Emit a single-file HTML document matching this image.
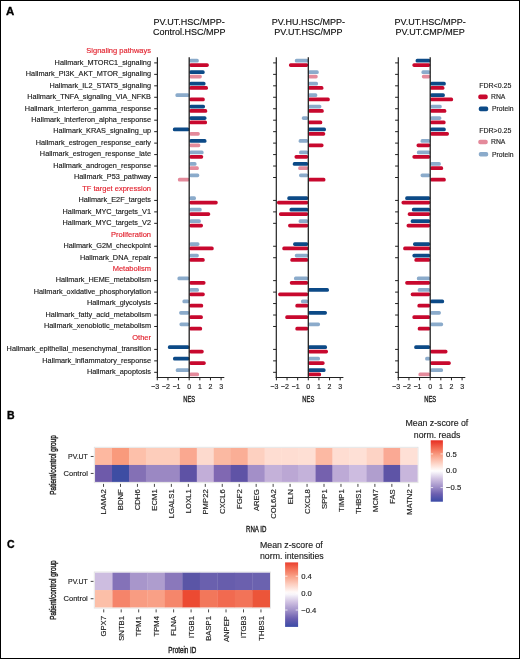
<!DOCTYPE html>
<html><head><meta charset="utf-8"><style>
html,body{margin:0;padding:0;background:#fff;}
#w{position:relative;width:520px;height:659px;overflow:hidden;background:#fff;}
#w svg{position:absolute;left:0;top:0;will-change:transform;}
#bd{position:absolute;left:0;top:0;width:518px;height:657px;border:1px solid #000;}
svg text{font-family:"Liberation Sans", sans-serif;}
</style></head><body><div id="w">
<svg width="520" height="659" viewBox="0 0 520 659">
<text x="6.1" y="14.6" font-size="11.4" font-weight="bold" fill="#000" stroke="#000" stroke-width="0.35">A</text>
<text stroke="#e2232f" stroke-width="0.15" x="151.0" y="53.24" font-size="7.5" fill="#e2232f" text-anchor="end">Signaling pathways</text>
<text stroke="#1a1a1a" stroke-width="0.15" x="151.0" y="64.70" font-size="7.3" fill="#1a1a1a" text-anchor="end">Hallmark_MTORC1_signaling</text>
<text stroke="#1a1a1a" stroke-width="0.15" x="151.0" y="76.16" font-size="7.3" fill="#1a1a1a" text-anchor="end">Hallmark_PI3K_AKT_MTOR_signaling</text>
<text stroke="#1a1a1a" stroke-width="0.15" x="151.0" y="87.62" font-size="7.3" fill="#1a1a1a" text-anchor="end">Hallmark_IL2_STAT5_signaling</text>
<text stroke="#1a1a1a" stroke-width="0.15" x="151.0" y="99.08" font-size="7.3" fill="#1a1a1a" text-anchor="end">Hallmark_TNFA_signaling_VIA_NFKB</text>
<text stroke="#1a1a1a" stroke-width="0.15" x="151.0" y="110.54" font-size="7.3" fill="#1a1a1a" text-anchor="end">Hallmark_interferon_gamma_response</text>
<text stroke="#1a1a1a" stroke-width="0.15" x="151.0" y="122.00" font-size="7.3" fill="#1a1a1a" text-anchor="end">Hallmark_interferon_alpha_response</text>
<text stroke="#1a1a1a" stroke-width="0.15" x="151.0" y="133.46" font-size="7.3" fill="#1a1a1a" text-anchor="end">Hallmark_KRAS_signaling_up</text>
<text stroke="#1a1a1a" stroke-width="0.15" x="151.0" y="144.92" font-size="7.3" fill="#1a1a1a" text-anchor="end">Hallmark_estrogen_response_early</text>
<text stroke="#1a1a1a" stroke-width="0.15" x="151.0" y="156.38" font-size="7.3" fill="#1a1a1a" text-anchor="end">Hallmark_estrogen_response_late</text>
<text stroke="#1a1a1a" stroke-width="0.15" x="151.0" y="167.84" font-size="7.3" fill="#1a1a1a" text-anchor="end">Hallmark_androgen_response</text>
<text stroke="#1a1a1a" stroke-width="0.15" x="151.0" y="179.30" font-size="7.3" fill="#1a1a1a" text-anchor="end">Hallmark_P53_pathway</text>
<text stroke="#e2232f" stroke-width="0.15" x="151.0" y="190.76" font-size="7.5" fill="#e2232f" text-anchor="end">TF target expression</text>
<text stroke="#1a1a1a" stroke-width="0.15" x="151.0" y="202.22" font-size="7.3" fill="#1a1a1a" text-anchor="end">Hallmark_E2F_targets</text>
<text stroke="#1a1a1a" stroke-width="0.15" x="151.0" y="213.68" font-size="7.3" fill="#1a1a1a" text-anchor="end">Hallmark_MYC_targets_V1</text>
<text stroke="#1a1a1a" stroke-width="0.15" x="151.0" y="225.14" font-size="7.3" fill="#1a1a1a" text-anchor="end">Hallmark_MYC_targets_V2</text>
<text stroke="#e2232f" stroke-width="0.15" x="151.0" y="236.60" font-size="7.5" fill="#e2232f" text-anchor="end">Proliferation</text>
<text stroke="#1a1a1a" stroke-width="0.15" x="151.0" y="248.06" font-size="7.3" fill="#1a1a1a" text-anchor="end">Hallmark_G2M_checkpoint</text>
<text stroke="#1a1a1a" stroke-width="0.15" x="151.0" y="259.52" font-size="7.3" fill="#1a1a1a" text-anchor="end">Hallmark_DNA_repair</text>
<text stroke="#e2232f" stroke-width="0.15" x="151.0" y="270.98" font-size="7.5" fill="#e2232f" text-anchor="end">Metabolism</text>
<text stroke="#1a1a1a" stroke-width="0.15" x="151.0" y="282.44" font-size="7.3" fill="#1a1a1a" text-anchor="end">Hallmark_HEME_metabolism</text>
<text stroke="#1a1a1a" stroke-width="0.15" x="151.0" y="293.90" font-size="7.3" fill="#1a1a1a" text-anchor="end">Hallmark_oxidative_phosphorylation</text>
<text stroke="#1a1a1a" stroke-width="0.15" x="151.0" y="305.36" font-size="7.3" fill="#1a1a1a" text-anchor="end">Hallmark_glycolysis</text>
<text stroke="#1a1a1a" stroke-width="0.15" x="151.0" y="316.82" font-size="7.3" fill="#1a1a1a" text-anchor="end">Hallmark_fatty_acid_metabolism</text>
<text stroke="#1a1a1a" stroke-width="0.15" x="151.0" y="328.28" font-size="7.3" fill="#1a1a1a" text-anchor="end">Hallmark_xenobiotic_metabolism</text>
<text stroke="#e2232f" stroke-width="0.15" x="151.0" y="339.74" font-size="7.5" fill="#e2232f" text-anchor="end">Other</text>
<text stroke="#1a1a1a" stroke-width="0.15" x="151.0" y="351.20" font-size="7.3" fill="#1a1a1a" text-anchor="end">Hallmark_epithelial_mesenchymal_transition</text>
<text stroke="#1a1a1a" stroke-width="0.15" x="151.0" y="362.66" font-size="7.3" fill="#1a1a1a" text-anchor="end">Hallmark_inflammatory_response</text>
<text stroke="#1a1a1a" stroke-width="0.15" x="151.0" y="374.12" font-size="7.3" fill="#1a1a1a" text-anchor="end">Hallmark_apoptosis</text>
<rect x="189.20" y="58.85" width="9.64" height="3.75" rx="1.6" fill="#8babcb"/>
<rect x="189.20" y="63.20" width="19.61" height="3.75" rx="1.6" fill="#c8082e"/>
<rect x="189.20" y="70.31" width="15.48" height="3.75" rx="1.6" fill="#0c4a87"/>
<rect x="189.20" y="74.66" width="12.61" height="3.75" rx="1.6" fill="#e48a9b"/>
<rect x="189.20" y="81.77" width="16.33" height="3.75" rx="1.6" fill="#0c4a87"/>
<rect x="189.20" y="86.12" width="18.76" height="3.75" rx="1.6" fill="#c8082e"/>
<rect x="175.42" y="93.23" width="14.08" height="3.75" rx="1.6" fill="#8babcb"/>
<rect x="189.20" y="97.58" width="15.58" height="3.75" rx="1.6" fill="#c8082e"/>
<rect x="189.20" y="104.69" width="15.80" height="3.75" rx="1.6" fill="#0c4a87"/>
<rect x="189.20" y="109.04" width="18.02" height="3.75" rx="1.6" fill="#c8082e"/>
<rect x="189.20" y="116.15" width="17.28" height="3.75" rx="1.6" fill="#0c4a87"/>
<rect x="189.20" y="120.50" width="17.81" height="3.75" rx="1.6" fill="#c8082e"/>
<rect x="172.87" y="127.61" width="16.63" height="3.75" rx="1.6" fill="#0c4a87"/>
<rect x="189.20" y="131.96" width="10.60" height="3.75" rx="1.6" fill="#e48a9b"/>
<rect x="189.20" y="139.07" width="17.28" height="3.75" rx="1.6" fill="#0c4a87"/>
<rect x="189.20" y="143.42" width="11.13" height="3.75" rx="1.6" fill="#e48a9b"/>
<rect x="189.20" y="150.53" width="14.42" height="3.75" rx="1.6" fill="#8babcb"/>
<rect x="189.20" y="154.88" width="13.99" height="3.75" rx="1.6" fill="#c8082e"/>
<rect x="189.20" y="161.99" width="7.31" height="3.75" rx="1.6" fill="#8babcb"/>
<rect x="189.20" y="166.34" width="9.64" height="3.75" rx="1.6" fill="#e48a9b"/>
<rect x="189.20" y="173.45" width="10.07" height="3.75" rx="1.6" fill="#8babcb"/>
<rect x="177.86" y="177.80" width="11.64" height="3.75" rx="1.6" fill="#e48a9b"/>
<rect x="189.20" y="196.37" width="6.78" height="3.75" rx="1.6" fill="#8babcb"/>
<rect x="189.20" y="200.72" width="28.52" height="3.75" rx="1.6" fill="#c8082e"/>
<rect x="189.20" y="207.83" width="12.51" height="3.75" rx="1.6" fill="#8babcb"/>
<rect x="189.20" y="212.18" width="20.99" height="3.75" rx="1.6" fill="#c8082e"/>
<rect x="189.20" y="219.29" width="11.66" height="3.75" rx="1.6" fill="#8babcb"/>
<rect x="189.20" y="223.64" width="13.78" height="3.75" rx="1.6" fill="#c8082e"/>
<rect x="189.20" y="242.21" width="10.28" height="3.75" rx="1.6" fill="#8babcb"/>
<rect x="189.20" y="246.56" width="24.49" height="3.75" rx="1.6" fill="#c8082e"/>
<rect x="189.20" y="253.67" width="9.64" height="3.75" rx="1.6" fill="#8babcb"/>
<rect x="189.20" y="258.02" width="15.48" height="3.75" rx="1.6" fill="#c8082e"/>
<rect x="177.43" y="276.59" width="12.07" height="3.75" rx="1.6" fill="#8babcb"/>
<rect x="189.20" y="280.94" width="16.33" height="3.75" rx="1.6" fill="#c8082e"/>
<rect x="189.20" y="288.05" width="9.75" height="3.75" rx="1.6" fill="#8babcb"/>
<rect x="189.20" y="292.40" width="15.58" height="3.75" rx="1.6" fill="#c8082e"/>
<rect x="182.42" y="299.51" width="7.08" height="3.75" rx="1.6" fill="#8babcb"/>
<rect x="189.20" y="303.86" width="13.99" height="3.75" rx="1.6" fill="#c8082e"/>
<rect x="179.13" y="310.97" width="10.37" height="3.75" rx="1.6" fill="#8babcb"/>
<rect x="189.20" y="315.32" width="13.67" height="3.75" rx="1.6" fill="#c8082e"/>
<rect x="179.45" y="322.43" width="10.05" height="3.75" rx="1.6" fill="#8babcb"/>
<rect x="189.20" y="326.78" width="12.93" height="3.75" rx="1.6" fill="#c8082e"/>
<rect x="167.89" y="345.35" width="21.61" height="3.75" rx="1.6" fill="#0c4a87"/>
<rect x="189.20" y="349.70" width="14.52" height="3.75" rx="1.6" fill="#c8082e"/>
<rect x="172.98" y="356.81" width="16.52" height="3.75" rx="1.6" fill="#0c4a87"/>
<rect x="189.20" y="361.16" width="16.54" height="3.75" rx="1.6" fill="#c8082e"/>
<rect x="175.74" y="368.27" width="13.76" height="3.75" rx="1.6" fill="#8babcb"/>
<rect x="189.20" y="372.62" width="9.86" height="3.75" rx="1.6" fill="#e48a9b"/>
<line x1="189.2" y1="57.2" x2="189.2" y2="377.5" stroke="#222" stroke-width="1.3"/>
<line x1="157.4" y1="57.2" x2="157.4" y2="378.1" stroke="#222" stroke-width="1.2"/>
<line x1="154.20000000000002" y1="62.90" x2="157.4" y2="62.90" stroke="#222" stroke-width="1"/>
<line x1="154.20000000000002" y1="74.36" x2="157.4" y2="74.36" stroke="#222" stroke-width="1"/>
<line x1="154.20000000000002" y1="85.82" x2="157.4" y2="85.82" stroke="#222" stroke-width="1"/>
<line x1="154.20000000000002" y1="97.28" x2="157.4" y2="97.28" stroke="#222" stroke-width="1"/>
<line x1="154.20000000000002" y1="108.74" x2="157.4" y2="108.74" stroke="#222" stroke-width="1"/>
<line x1="154.20000000000002" y1="120.20" x2="157.4" y2="120.20" stroke="#222" stroke-width="1"/>
<line x1="154.20000000000002" y1="131.66" x2="157.4" y2="131.66" stroke="#222" stroke-width="1"/>
<line x1="154.20000000000002" y1="143.12" x2="157.4" y2="143.12" stroke="#222" stroke-width="1"/>
<line x1="154.20000000000002" y1="154.58" x2="157.4" y2="154.58" stroke="#222" stroke-width="1"/>
<line x1="154.20000000000002" y1="166.04" x2="157.4" y2="166.04" stroke="#222" stroke-width="1"/>
<line x1="154.20000000000002" y1="177.50" x2="157.4" y2="177.50" stroke="#222" stroke-width="1"/>
<line x1="154.20000000000002" y1="200.42" x2="157.4" y2="200.42" stroke="#222" stroke-width="1"/>
<line x1="154.20000000000002" y1="211.88" x2="157.4" y2="211.88" stroke="#222" stroke-width="1"/>
<line x1="154.20000000000002" y1="223.34" x2="157.4" y2="223.34" stroke="#222" stroke-width="1"/>
<line x1="154.20000000000002" y1="246.26" x2="157.4" y2="246.26" stroke="#222" stroke-width="1"/>
<line x1="154.20000000000002" y1="257.72" x2="157.4" y2="257.72" stroke="#222" stroke-width="1"/>
<line x1="154.20000000000002" y1="280.64" x2="157.4" y2="280.64" stroke="#222" stroke-width="1"/>
<line x1="154.20000000000002" y1="292.10" x2="157.4" y2="292.10" stroke="#222" stroke-width="1"/>
<line x1="154.20000000000002" y1="303.56" x2="157.4" y2="303.56" stroke="#222" stroke-width="1"/>
<line x1="154.20000000000002" y1="315.02" x2="157.4" y2="315.02" stroke="#222" stroke-width="1"/>
<line x1="154.20000000000002" y1="326.48" x2="157.4" y2="326.48" stroke="#222" stroke-width="1"/>
<line x1="154.20000000000002" y1="349.40" x2="157.4" y2="349.40" stroke="#222" stroke-width="1"/>
<line x1="154.20000000000002" y1="360.86" x2="157.4" y2="360.86" stroke="#222" stroke-width="1"/>
<line x1="154.20000000000002" y1="372.32" x2="157.4" y2="372.32" stroke="#222" stroke-width="1"/>
<line x1="156.8" y1="377.5" x2="224.28999999999996" y2="377.5" stroke="#222" stroke-width="1.1"/>
<line x1="157.31" y1="377.5" x2="157.31" y2="380.3" stroke="#222" stroke-width="1"/>
<text stroke="#222" stroke-width="0.15" x="157.31" y="389.2" font-size="7" fill="#222" text-anchor="middle">3</text>
<text stroke="#222" stroke-width="0.15" x="155.21" y="389.2" font-size="7" fill="#222" text-anchor="end">−</text>
<line x1="167.94" y1="377.5" x2="167.94" y2="380.3" stroke="#222" stroke-width="1"/>
<text stroke="#222" stroke-width="0.15" x="167.94" y="389.2" font-size="7" fill="#222" text-anchor="middle">2</text>
<text stroke="#222" stroke-width="0.15" x="165.84" y="389.2" font-size="7" fill="#222" text-anchor="end">−</text>
<line x1="178.57" y1="377.5" x2="178.57" y2="380.3" stroke="#222" stroke-width="1"/>
<text stroke="#222" stroke-width="0.15" x="178.57" y="389.2" font-size="7" fill="#222" text-anchor="middle">1</text>
<text stroke="#222" stroke-width="0.15" x="176.47" y="389.2" font-size="7" fill="#222" text-anchor="end">−</text>
<line x1="189.20" y1="377.5" x2="189.20" y2="380.3" stroke="#222" stroke-width="1"/>
<text stroke="#222" stroke-width="0.15" x="189.20" y="389.2" font-size="7" fill="#222" text-anchor="middle">0</text>
<line x1="199.83" y1="377.5" x2="199.83" y2="380.3" stroke="#222" stroke-width="1"/>
<text stroke="#222" stroke-width="0.15" x="199.83" y="389.2" font-size="7" fill="#222" text-anchor="middle">1</text>
<line x1="210.46" y1="377.5" x2="210.46" y2="380.3" stroke="#222" stroke-width="1"/>
<text stroke="#222" stroke-width="0.15" x="210.46" y="389.2" font-size="7" fill="#222" text-anchor="middle">2</text>
<line x1="221.09" y1="377.5" x2="221.09" y2="380.3" stroke="#222" stroke-width="1"/>
<text stroke="#222" stroke-width="0.15" x="221.09" y="389.2" font-size="7" fill="#222" text-anchor="middle">3</text>
<text x="183.20" y="401.8" font-size="9" fill="#222" stroke="#222" stroke-width="0.4" textLength="12" lengthAdjust="spacingAndGlyphs">NES</text>
<text stroke="#111" stroke-width="0.15" x="189.20" y="25" font-size="9" fill="#111" text-anchor="middle">PV.UT.HSC/MPP-</text>
<text stroke="#111" stroke-width="0.15" x="189.20" y="35.3" font-size="9" fill="#111" text-anchor="middle">Control.HSC/MPP</text>
<rect x="294.81" y="58.85" width="13.44" height="3.75" rx="1.6" fill="#8babcb"/>
<rect x="288.97" y="63.20" width="19.28" height="3.75" rx="1.6" fill="#c8082e"/>
<rect x="307.95" y="70.31" width="10.81" height="3.75" rx="1.6" fill="#8babcb"/>
<rect x="307.95" y="74.66" width="9.75" height="3.75" rx="1.6" fill="#e48a9b"/>
<rect x="307.95" y="81.77" width="10.07" height="3.75" rx="1.6" fill="#8babcb"/>
<rect x="307.95" y="86.12" width="15.48" height="3.75" rx="1.6" fill="#c8082e"/>
<rect x="307.95" y="93.23" width="9.33" height="3.75" rx="1.6" fill="#8babcb"/>
<rect x="307.95" y="97.58" width="21.84" height="3.75" rx="1.6" fill="#c8082e"/>
<rect x="307.95" y="104.69" width="13.46" height="3.75" rx="1.6" fill="#8babcb"/>
<rect x="307.95" y="109.04" width="15.80" height="3.75" rx="1.6" fill="#c8082e"/>
<rect x="301.81" y="116.15" width="6.44" height="3.75" rx="1.6" fill="#8babcb"/>
<rect x="307.95" y="120.50" width="14.31" height="3.75" rx="1.6" fill="#c8082e"/>
<rect x="307.95" y="127.61" width="18.02" height="3.75" rx="1.6" fill="#0c4a87"/>
<rect x="307.95" y="131.96" width="17.28" height="3.75" rx="1.6" fill="#c8082e"/>
<rect x="298.62" y="139.07" width="9.63" height="3.75" rx="1.6" fill="#8babcb"/>
<rect x="307.95" y="143.42" width="15.58" height="3.75" rx="1.6" fill="#c8082e"/>
<rect x="299.05" y="150.53" width="9.20" height="3.75" rx="1.6" fill="#8babcb"/>
<rect x="294.49" y="154.88" width="13.76" height="3.75" rx="1.6" fill="#c8082e"/>
<rect x="292.79" y="161.99" width="15.46" height="3.75" rx="1.6" fill="#0c4a87"/>
<rect x="298.20" y="166.34" width="10.05" height="3.75" rx="1.6" fill="#e48a9b"/>
<rect x="299.05" y="173.45" width="9.20" height="3.75" rx="1.6" fill="#8babcb"/>
<rect x="307.95" y="177.80" width="17.49" height="3.75" rx="1.6" fill="#c8082e"/>
<rect x="287.28" y="196.37" width="20.97" height="3.75" rx="1.6" fill="#0c4a87"/>
<rect x="276.99" y="200.72" width="31.26" height="3.75" rx="1.6" fill="#c8082e"/>
<rect x="289.50" y="207.83" width="18.75" height="3.75" rx="1.6" fill="#0c4a87"/>
<rect x="279.00" y="212.18" width="29.25" height="3.75" rx="1.6" fill="#c8082e"/>
<rect x="298.62" y="219.29" width="9.63" height="3.75" rx="1.6" fill="#8babcb"/>
<rect x="288.12" y="223.64" width="20.13" height="3.75" rx="1.6" fill="#c8082e"/>
<rect x="293.11" y="242.21" width="15.14" height="3.75" rx="1.6" fill="#0c4a87"/>
<rect x="282.29" y="246.56" width="25.96" height="3.75" rx="1.6" fill="#c8082e"/>
<rect x="294.81" y="253.67" width="13.44" height="3.75" rx="1.6" fill="#8babcb"/>
<rect x="290.35" y="258.02" width="17.90" height="3.75" rx="1.6" fill="#c8082e"/>
<rect x="293.96" y="276.59" width="14.29" height="3.75" rx="1.6" fill="#8babcb"/>
<rect x="289.82" y="280.94" width="18.43" height="3.75" rx="1.6" fill="#c8082e"/>
<rect x="307.95" y="288.05" width="20.99" height="3.75" rx="1.6" fill="#0c4a87"/>
<rect x="278.16" y="292.40" width="30.09" height="3.75" rx="1.6" fill="#c8082e"/>
<rect x="300.96" y="299.51" width="7.29" height="3.75" rx="1.6" fill="#8babcb"/>
<rect x="295.34" y="303.86" width="12.91" height="3.75" rx="1.6" fill="#c8082e"/>
<rect x="307.95" y="310.97" width="18.98" height="3.75" rx="1.6" fill="#0c4a87"/>
<rect x="285.26" y="315.32" width="22.99" height="3.75" rx="1.6" fill="#c8082e"/>
<rect x="307.95" y="322.43" width="12.08" height="3.75" rx="1.6" fill="#8babcb"/>
<rect x="295.34" y="326.78" width="12.91" height="3.75" rx="1.6" fill="#c8082e"/>
<rect x="307.95" y="345.35" width="19.08" height="3.75" rx="1.6" fill="#0c4a87"/>
<rect x="307.95" y="349.70" width="20.04" height="3.75" rx="1.6" fill="#c8082e"/>
<rect x="307.95" y="356.81" width="12.08" height="3.75" rx="1.6" fill="#8babcb"/>
<rect x="307.95" y="361.16" width="16.64" height="3.75" rx="1.6" fill="#c8082e"/>
<rect x="307.95" y="368.27" width="17.60" height="3.75" rx="1.6" fill="#0c4a87"/>
<rect x="307.95" y="372.62" width="13.14" height="3.75" rx="1.6" fill="#c8082e"/>
<line x1="308.3" y1="57.2" x2="308.3" y2="377.5" stroke="#222" stroke-width="1.3"/>
<line x1="276.3" y1="57.2" x2="276.3" y2="378.1" stroke="#222" stroke-width="1.2"/>
<line x1="273.1" y1="62.90" x2="276.3" y2="62.90" stroke="#222" stroke-width="1"/>
<line x1="273.1" y1="74.36" x2="276.3" y2="74.36" stroke="#222" stroke-width="1"/>
<line x1="273.1" y1="85.82" x2="276.3" y2="85.82" stroke="#222" stroke-width="1"/>
<line x1="273.1" y1="97.28" x2="276.3" y2="97.28" stroke="#222" stroke-width="1"/>
<line x1="273.1" y1="108.74" x2="276.3" y2="108.74" stroke="#222" stroke-width="1"/>
<line x1="273.1" y1="120.20" x2="276.3" y2="120.20" stroke="#222" stroke-width="1"/>
<line x1="273.1" y1="131.66" x2="276.3" y2="131.66" stroke="#222" stroke-width="1"/>
<line x1="273.1" y1="143.12" x2="276.3" y2="143.12" stroke="#222" stroke-width="1"/>
<line x1="273.1" y1="154.58" x2="276.3" y2="154.58" stroke="#222" stroke-width="1"/>
<line x1="273.1" y1="166.04" x2="276.3" y2="166.04" stroke="#222" stroke-width="1"/>
<line x1="273.1" y1="177.50" x2="276.3" y2="177.50" stroke="#222" stroke-width="1"/>
<line x1="273.1" y1="200.42" x2="276.3" y2="200.42" stroke="#222" stroke-width="1"/>
<line x1="273.1" y1="211.88" x2="276.3" y2="211.88" stroke="#222" stroke-width="1"/>
<line x1="273.1" y1="223.34" x2="276.3" y2="223.34" stroke="#222" stroke-width="1"/>
<line x1="273.1" y1="246.26" x2="276.3" y2="246.26" stroke="#222" stroke-width="1"/>
<line x1="273.1" y1="257.72" x2="276.3" y2="257.72" stroke="#222" stroke-width="1"/>
<line x1="273.1" y1="280.64" x2="276.3" y2="280.64" stroke="#222" stroke-width="1"/>
<line x1="273.1" y1="292.10" x2="276.3" y2="292.10" stroke="#222" stroke-width="1"/>
<line x1="273.1" y1="303.56" x2="276.3" y2="303.56" stroke="#222" stroke-width="1"/>
<line x1="273.1" y1="315.02" x2="276.3" y2="315.02" stroke="#222" stroke-width="1"/>
<line x1="273.1" y1="326.48" x2="276.3" y2="326.48" stroke="#222" stroke-width="1"/>
<line x1="273.1" y1="349.40" x2="276.3" y2="349.40" stroke="#222" stroke-width="1"/>
<line x1="273.1" y1="360.86" x2="276.3" y2="360.86" stroke="#222" stroke-width="1"/>
<line x1="273.1" y1="372.32" x2="276.3" y2="372.32" stroke="#222" stroke-width="1"/>
<line x1="275.7" y1="377.5" x2="343.39" y2="377.5" stroke="#222" stroke-width="1.1"/>
<line x1="276.41" y1="377.5" x2="276.41" y2="380.3" stroke="#222" stroke-width="1"/>
<text stroke="#222" stroke-width="0.15" x="276.41" y="389.2" font-size="7" fill="#222" text-anchor="middle">3</text>
<text stroke="#222" stroke-width="0.15" x="274.31" y="389.2" font-size="7" fill="#222" text-anchor="end">−</text>
<line x1="287.04" y1="377.5" x2="287.04" y2="380.3" stroke="#222" stroke-width="1"/>
<text stroke="#222" stroke-width="0.15" x="287.04" y="389.2" font-size="7" fill="#222" text-anchor="middle">2</text>
<text stroke="#222" stroke-width="0.15" x="284.94" y="389.2" font-size="7" fill="#222" text-anchor="end">−</text>
<line x1="297.67" y1="377.5" x2="297.67" y2="380.3" stroke="#222" stroke-width="1"/>
<text stroke="#222" stroke-width="0.15" x="297.67" y="389.2" font-size="7" fill="#222" text-anchor="middle">1</text>
<text stroke="#222" stroke-width="0.15" x="295.57" y="389.2" font-size="7" fill="#222" text-anchor="end">−</text>
<line x1="308.30" y1="377.5" x2="308.30" y2="380.3" stroke="#222" stroke-width="1"/>
<text stroke="#222" stroke-width="0.15" x="308.30" y="389.2" font-size="7" fill="#222" text-anchor="middle">0</text>
<line x1="318.93" y1="377.5" x2="318.93" y2="380.3" stroke="#222" stroke-width="1"/>
<text stroke="#222" stroke-width="0.15" x="318.93" y="389.2" font-size="7" fill="#222" text-anchor="middle">1</text>
<line x1="329.56" y1="377.5" x2="329.56" y2="380.3" stroke="#222" stroke-width="1"/>
<text stroke="#222" stroke-width="0.15" x="329.56" y="389.2" font-size="7" fill="#222" text-anchor="middle">2</text>
<line x1="340.19" y1="377.5" x2="340.19" y2="380.3" stroke="#222" stroke-width="1"/>
<text stroke="#222" stroke-width="0.15" x="340.19" y="389.2" font-size="7" fill="#222" text-anchor="middle">3</text>
<text x="302.30" y="401.8" font-size="9" fill="#222" stroke="#222" stroke-width="0.4" textLength="12" lengthAdjust="spacingAndGlyphs">NES</text>
<text stroke="#111" stroke-width="0.15" x="308.30" y="25" font-size="9" fill="#111" text-anchor="middle">PV.HU.HSC/MPP-</text>
<text stroke="#111" stroke-width="0.15" x="308.30" y="35.3" font-size="9" fill="#111" text-anchor="middle">PV.UT.HSC/MPP</text>
<rect x="415.58" y="58.85" width="14.72" height="3.75" rx="1.6" fill="#0c4a87"/>
<rect x="412.40" y="63.20" width="17.90" height="3.75" rx="1.6" fill="#c8082e"/>
<rect x="421.42" y="70.31" width="8.88" height="3.75" rx="1.6" fill="#8babcb"/>
<rect x="421.84" y="74.66" width="8.46" height="3.75" rx="1.6" fill="#e48a9b"/>
<rect x="430.00" y="81.77" width="15.80" height="3.75" rx="1.6" fill="#0c4a87"/>
<rect x="430.00" y="86.12" width="14.42" height="3.75" rx="1.6" fill="#c8082e"/>
<rect x="430.00" y="93.23" width="14.84" height="3.75" rx="1.6" fill="#0c4a87"/>
<rect x="430.00" y="97.58" width="23.11" height="3.75" rx="1.6" fill="#c8082e"/>
<rect x="430.00" y="104.69" width="11.77" height="3.75" rx="1.6" fill="#8babcb"/>
<rect x="430.00" y="109.04" width="16.33" height="3.75" rx="1.6" fill="#c8082e"/>
<rect x="430.00" y="116.15" width="11.34" height="3.75" rx="1.6" fill="#8babcb"/>
<rect x="430.00" y="120.50" width="15.58" height="3.75" rx="1.6" fill="#c8082e"/>
<rect x="430.00" y="127.61" width="15.80" height="3.75" rx="1.6" fill="#0c4a87"/>
<rect x="430.00" y="131.96" width="18.98" height="3.75" rx="1.6" fill="#c8082e"/>
<rect x="420.57" y="139.07" width="9.73" height="3.75" rx="1.6" fill="#8babcb"/>
<rect x="416.54" y="143.42" width="13.76" height="3.75" rx="1.6" fill="#c8082e"/>
<rect x="416.86" y="150.53" width="13.44" height="3.75" rx="1.6" fill="#8babcb"/>
<rect x="412.40" y="154.88" width="17.90" height="3.75" rx="1.6" fill="#c8082e"/>
<rect x="430.00" y="161.99" width="10.81" height="3.75" rx="1.6" fill="#8babcb"/>
<rect x="430.00" y="166.34" width="13.14" height="3.75" rx="1.6" fill="#c8082e"/>
<rect x="420.57" y="173.45" width="9.73" height="3.75" rx="1.6" fill="#8babcb"/>
<rect x="430.00" y="177.80" width="15.80" height="3.75" rx="1.6" fill="#c8082e"/>
<rect x="405.19" y="196.37" width="25.11" height="3.75" rx="1.6" fill="#0c4a87"/>
<rect x="401.48" y="200.72" width="28.82" height="3.75" rx="1.6" fill="#c8082e"/>
<rect x="411.87" y="207.83" width="18.43" height="3.75" rx="1.6" fill="#0c4a87"/>
<rect x="407.74" y="212.18" width="22.56" height="3.75" rx="1.6" fill="#c8082e"/>
<rect x="410.70" y="219.29" width="19.60" height="3.75" rx="1.6" fill="#0c4a87"/>
<rect x="406.57" y="223.64" width="23.73" height="3.75" rx="1.6" fill="#c8082e"/>
<rect x="413.04" y="242.21" width="17.26" height="3.75" rx="1.6" fill="#0c4a87"/>
<rect x="403.18" y="246.56" width="27.12" height="3.75" rx="1.6" fill="#c8082e"/>
<rect x="412.40" y="253.67" width="17.90" height="3.75" rx="1.6" fill="#0c4a87"/>
<rect x="414.42" y="258.02" width="15.88" height="3.75" rx="1.6" fill="#c8082e"/>
<rect x="416.86" y="276.59" width="13.44" height="3.75" rx="1.6" fill="#8babcb"/>
<rect x="405.19" y="280.94" width="25.11" height="3.75" rx="1.6" fill="#c8082e"/>
<rect x="417.70" y="288.05" width="12.60" height="3.75" rx="1.6" fill="#8babcb"/>
<rect x="410.70" y="292.40" width="19.60" height="3.75" rx="1.6" fill="#c8082e"/>
<rect x="430.00" y="299.51" width="14.10" height="3.75" rx="1.6" fill="#0c4a87"/>
<rect x="417.39" y="303.86" width="12.91" height="3.75" rx="1.6" fill="#c8082e"/>
<rect x="430.00" y="310.97" width="10.92" height="3.75" rx="1.6" fill="#8babcb"/>
<rect x="412.40" y="315.32" width="17.90" height="3.75" rx="1.6" fill="#c8082e"/>
<rect x="430.00" y="322.43" width="13.14" height="3.75" rx="1.6" fill="#8babcb"/>
<rect x="417.70" y="326.78" width="12.60" height="3.75" rx="1.6" fill="#c8082e"/>
<rect x="414.20" y="345.35" width="16.10" height="3.75" rx="1.6" fill="#0c4a87"/>
<rect x="430.00" y="349.70" width="17.49" height="3.75" rx="1.6" fill="#c8082e"/>
<rect x="425.13" y="356.81" width="5.17" height="3.75" rx="1.6" fill="#8babcb"/>
<rect x="430.00" y="361.16" width="20.78" height="3.75" rx="1.6" fill="#c8082e"/>
<rect x="430.00" y="368.27" width="13.04" height="3.75" rx="1.6" fill="#8babcb"/>
<rect x="418.45" y="372.62" width="11.85" height="3.75" rx="1.6" fill="#e48a9b"/>
<line x1="430.2" y1="57.2" x2="430.2" y2="377.5" stroke="#222" stroke-width="1.3"/>
<line x1="398.3" y1="57.2" x2="398.3" y2="378.1" stroke="#222" stroke-width="1.2"/>
<line x1="395.1" y1="62.90" x2="398.3" y2="62.90" stroke="#222" stroke-width="1"/>
<line x1="395.1" y1="74.36" x2="398.3" y2="74.36" stroke="#222" stroke-width="1"/>
<line x1="395.1" y1="85.82" x2="398.3" y2="85.82" stroke="#222" stroke-width="1"/>
<line x1="395.1" y1="97.28" x2="398.3" y2="97.28" stroke="#222" stroke-width="1"/>
<line x1="395.1" y1="108.74" x2="398.3" y2="108.74" stroke="#222" stroke-width="1"/>
<line x1="395.1" y1="120.20" x2="398.3" y2="120.20" stroke="#222" stroke-width="1"/>
<line x1="395.1" y1="131.66" x2="398.3" y2="131.66" stroke="#222" stroke-width="1"/>
<line x1="395.1" y1="143.12" x2="398.3" y2="143.12" stroke="#222" stroke-width="1"/>
<line x1="395.1" y1="154.58" x2="398.3" y2="154.58" stroke="#222" stroke-width="1"/>
<line x1="395.1" y1="166.04" x2="398.3" y2="166.04" stroke="#222" stroke-width="1"/>
<line x1="395.1" y1="177.50" x2="398.3" y2="177.50" stroke="#222" stroke-width="1"/>
<line x1="395.1" y1="200.42" x2="398.3" y2="200.42" stroke="#222" stroke-width="1"/>
<line x1="395.1" y1="211.88" x2="398.3" y2="211.88" stroke="#222" stroke-width="1"/>
<line x1="395.1" y1="223.34" x2="398.3" y2="223.34" stroke="#222" stroke-width="1"/>
<line x1="395.1" y1="246.26" x2="398.3" y2="246.26" stroke="#222" stroke-width="1"/>
<line x1="395.1" y1="257.72" x2="398.3" y2="257.72" stroke="#222" stroke-width="1"/>
<line x1="395.1" y1="280.64" x2="398.3" y2="280.64" stroke="#222" stroke-width="1"/>
<line x1="395.1" y1="292.10" x2="398.3" y2="292.10" stroke="#222" stroke-width="1"/>
<line x1="395.1" y1="303.56" x2="398.3" y2="303.56" stroke="#222" stroke-width="1"/>
<line x1="395.1" y1="315.02" x2="398.3" y2="315.02" stroke="#222" stroke-width="1"/>
<line x1="395.1" y1="326.48" x2="398.3" y2="326.48" stroke="#222" stroke-width="1"/>
<line x1="395.1" y1="349.40" x2="398.3" y2="349.40" stroke="#222" stroke-width="1"/>
<line x1="395.1" y1="360.86" x2="398.3" y2="360.86" stroke="#222" stroke-width="1"/>
<line x1="395.1" y1="372.32" x2="398.3" y2="372.32" stroke="#222" stroke-width="1"/>
<line x1="397.7" y1="377.5" x2="465.28999999999996" y2="377.5" stroke="#222" stroke-width="1.1"/>
<line x1="398.31" y1="377.5" x2="398.31" y2="380.3" stroke="#222" stroke-width="1"/>
<text stroke="#222" stroke-width="0.15" x="398.31" y="389.2" font-size="7" fill="#222" text-anchor="middle">3</text>
<text stroke="#222" stroke-width="0.15" x="396.21" y="389.2" font-size="7" fill="#222" text-anchor="end">−</text>
<line x1="408.94" y1="377.5" x2="408.94" y2="380.3" stroke="#222" stroke-width="1"/>
<text stroke="#222" stroke-width="0.15" x="408.94" y="389.2" font-size="7" fill="#222" text-anchor="middle">2</text>
<text stroke="#222" stroke-width="0.15" x="406.84" y="389.2" font-size="7" fill="#222" text-anchor="end">−</text>
<line x1="419.57" y1="377.5" x2="419.57" y2="380.3" stroke="#222" stroke-width="1"/>
<text stroke="#222" stroke-width="0.15" x="419.57" y="389.2" font-size="7" fill="#222" text-anchor="middle">1</text>
<text stroke="#222" stroke-width="0.15" x="417.47" y="389.2" font-size="7" fill="#222" text-anchor="end">−</text>
<line x1="430.20" y1="377.5" x2="430.20" y2="380.3" stroke="#222" stroke-width="1"/>
<text stroke="#222" stroke-width="0.15" x="430.20" y="389.2" font-size="7" fill="#222" text-anchor="middle">0</text>
<line x1="440.83" y1="377.5" x2="440.83" y2="380.3" stroke="#222" stroke-width="1"/>
<text stroke="#222" stroke-width="0.15" x="440.83" y="389.2" font-size="7" fill="#222" text-anchor="middle">1</text>
<line x1="451.46" y1="377.5" x2="451.46" y2="380.3" stroke="#222" stroke-width="1"/>
<text stroke="#222" stroke-width="0.15" x="451.46" y="389.2" font-size="7" fill="#222" text-anchor="middle">2</text>
<line x1="462.09" y1="377.5" x2="462.09" y2="380.3" stroke="#222" stroke-width="1"/>
<text stroke="#222" stroke-width="0.15" x="462.09" y="389.2" font-size="7" fill="#222" text-anchor="middle">3</text>
<text x="424.20" y="401.8" font-size="9" fill="#222" stroke="#222" stroke-width="0.4" textLength="12" lengthAdjust="spacingAndGlyphs">NES</text>
<text stroke="#111" stroke-width="0.15" x="430.20" y="25" font-size="9" fill="#111" text-anchor="middle">PV.UT.HSC/MPP-</text>
<text stroke="#111" stroke-width="0.15" x="430.20" y="35.3" font-size="9" fill="#111" text-anchor="middle">PV.UT.CMP/MEP</text>
<text stroke="#222" stroke-width="0.15" x="479.2" y="88.0" font-size="7" fill="#222">FDR&lt;0.25</text>
<rect x="478.3" y="94.6" width="9.4" height="4.6" rx="1.8" fill="#c8082e"/>
<text stroke="#222" stroke-width="0.15" x="491" y="99.1" font-size="6.8" fill="#222">RNA</text>
<rect x="478.8" y="106.6" width="9.4" height="4.6" rx="1.8" fill="#0c4a87"/>
<text stroke="#222" stroke-width="0.15" x="492" y="110.9" font-size="6.8" fill="#222">Protein</text>
<text stroke="#222" stroke-width="0.15" x="479.2" y="133.2" font-size="7" fill="#222">FDR&gt;0.25</text>
<rect x="478.3" y="139.7" width="9.4" height="4.6" rx="1.8" fill="#e48a9b"/>
<text stroke="#222" stroke-width="0.15" x="491" y="144.1" font-size="6.8" fill="#222">RNA</text>
<rect x="478.8" y="152" width="9.4" height="4.6" rx="1.8" fill="#8babcb"/>
<text stroke="#222" stroke-width="0.15" x="492" y="156.5" font-size="6.8" fill="#222">Protein</text>
<text x="7" y="418.8" font-size="10.5" font-weight="bold" fill="#000" stroke="#000" stroke-width="0.35">B</text>
<rect x="94.35" y="447.3" width="323.64" height="35.3" fill="none" stroke="#e4e4e4" stroke-width="1"/>
<rect x="95.05" y="448.00" width="17.26" height="17.25" fill="#fdb8a0"/>
<rect x="95.05" y="464.95" width="17.26" height="16.95" fill="#6e5aaa"/>
<rect x="112.01" y="448.00" width="17.26" height="17.25" fill="#f99a7c"/>
<rect x="112.01" y="464.95" width="17.26" height="16.95" fill="#3e4da3"/>
<rect x="128.97" y="448.00" width="17.26" height="17.25" fill="#fdc0aa"/>
<rect x="128.97" y="464.95" width="17.26" height="16.95" fill="#8470b5"/>
<rect x="145.93" y="448.00" width="17.26" height="17.25" fill="#fdcdbb"/>
<rect x="145.93" y="464.95" width="17.26" height="16.95" fill="#9b88c3"/>
<rect x="162.89" y="448.00" width="17.26" height="17.25" fill="#fdcdbb"/>
<rect x="162.89" y="464.95" width="17.26" height="16.95" fill="#9b88c3"/>
<rect x="179.85" y="448.00" width="17.26" height="17.25" fill="#faa890"/>
<rect x="179.85" y="464.95" width="17.26" height="16.95" fill="#5e52a5"/>
<rect x="196.81" y="448.00" width="17.26" height="17.25" fill="#fddace"/>
<rect x="196.81" y="464.95" width="17.26" height="16.95" fill="#c2aed8"/>
<rect x="213.77" y="448.00" width="17.26" height="17.25" fill="#fbb9a2"/>
<rect x="213.77" y="464.95" width="17.26" height="16.95" fill="#8068b2"/>
<rect x="230.73" y="448.00" width="17.26" height="17.25" fill="#faae96"/>
<rect x="230.73" y="464.95" width="17.26" height="16.95" fill="#5f53a6"/>
<rect x="247.69" y="448.00" width="17.26" height="17.25" fill="#fdd0c0"/>
<rect x="247.69" y="464.95" width="17.26" height="16.95" fill="#a38fc8"/>
<rect x="264.65" y="448.00" width="17.26" height="17.25" fill="#feddd2"/>
<rect x="264.65" y="464.95" width="17.26" height="16.95" fill="#c4b1d9"/>
<rect x="281.61" y="448.00" width="17.26" height="17.25" fill="#feddd2"/>
<rect x="281.61" y="464.95" width="17.26" height="16.95" fill="#bba7d4"/>
<rect x="298.57" y="448.00" width="17.26" height="17.25" fill="#fedfd4"/>
<rect x="298.57" y="464.95" width="17.26" height="16.95" fill="#c4b2da"/>
<rect x="315.53" y="448.00" width="17.26" height="17.25" fill="#fcb9a3"/>
<rect x="315.53" y="464.95" width="17.26" height="16.95" fill="#7561ae"/>
<rect x="332.49" y="448.00" width="17.26" height="17.25" fill="#feddd2"/>
<rect x="332.49" y="464.95" width="17.26" height="16.95" fill="#bdaad6"/>
<rect x="349.45" y="448.00" width="17.26" height="17.25" fill="#fee0d6"/>
<rect x="349.45" y="464.95" width="17.26" height="16.95" fill="#cdbce0"/>
<rect x="366.41" y="448.00" width="17.26" height="17.25" fill="#fdd3c5"/>
<rect x="366.41" y="464.95" width="17.26" height="16.95" fill="#b09ece"/>
<rect x="383.37" y="448.00" width="17.26" height="17.25" fill="#faa994"/>
<rect x="383.37" y="464.95" width="17.26" height="16.95" fill="#5e54a6"/>
<rect x="400.33" y="448.00" width="17.26" height="17.25" fill="#fee0d6"/>
<rect x="400.33" y="464.95" width="17.26" height="16.95" fill="#c8b6dc"/>
<line x1="90.75" y1="456.48" x2="93.55" y2="456.48" stroke="#333" stroke-width="0.9"/>
<text stroke="#222" stroke-width="0.15" x="87.85" y="458.78" font-size="7.4" fill="#222" text-anchor="end" textLength="19.8" lengthAdjust="spacingAndGlyphs">PV.UT</text>
<line x1="90.75" y1="473.43" x2="93.55" y2="473.43" stroke="#333" stroke-width="0.9"/>
<text stroke="#222" stroke-width="0.15" x="87.85" y="475.73" font-size="7.4" fill="#222" text-anchor="end" textLength="24.3" lengthAdjust="spacingAndGlyphs">Control</text>
<text transform="translate(55.6,464.95) rotate(-90)" x="0" y="0" font-size="8.6" fill="#222" stroke="#222" stroke-width="0.4" text-anchor="middle" textLength="59.5" lengthAdjust="spacingAndGlyphs">Patient/control group</text>
<line x1="103.53" y1="483.90" x2="103.53" y2="486.90" stroke="#333" stroke-width="0.9"/>
<text stroke="#222" stroke-width="0.15" transform="translate(106.23,489.30) rotate(-90)" x="0" y="0" font-size="7.7" fill="#222" text-anchor="end">LAMA2</text>
<line x1="120.49" y1="483.90" x2="120.49" y2="486.90" stroke="#333" stroke-width="0.9"/>
<text stroke="#222" stroke-width="0.15" transform="translate(123.19,489.30) rotate(-90)" x="0" y="0" font-size="7.7" fill="#222" text-anchor="end">BDNF</text>
<line x1="137.45" y1="483.90" x2="137.45" y2="486.90" stroke="#333" stroke-width="0.9"/>
<text stroke="#222" stroke-width="0.15" transform="translate(140.15,489.30) rotate(-90)" x="0" y="0" font-size="7.7" fill="#222" text-anchor="end">CDH6</text>
<line x1="154.41" y1="483.90" x2="154.41" y2="486.90" stroke="#333" stroke-width="0.9"/>
<text stroke="#222" stroke-width="0.15" transform="translate(157.11,489.30) rotate(-90)" x="0" y="0" font-size="7.7" fill="#222" text-anchor="end">ECM1</text>
<line x1="171.37" y1="483.90" x2="171.37" y2="486.90" stroke="#333" stroke-width="0.9"/>
<text stroke="#222" stroke-width="0.15" transform="translate(174.07,489.30) rotate(-90)" x="0" y="0" font-size="7.7" fill="#222" text-anchor="end">LGALS1</text>
<line x1="188.33" y1="483.90" x2="188.33" y2="486.90" stroke="#333" stroke-width="0.9"/>
<text stroke="#222" stroke-width="0.15" transform="translate(191.03,489.30) rotate(-90)" x="0" y="0" font-size="7.7" fill="#222" text-anchor="end">LOXL1</text>
<line x1="205.29" y1="483.90" x2="205.29" y2="486.90" stroke="#333" stroke-width="0.9"/>
<text stroke="#222" stroke-width="0.15" transform="translate(207.99,489.30) rotate(-90)" x="0" y="0" font-size="7.7" fill="#222" text-anchor="end">PMP22</text>
<line x1="222.25" y1="483.90" x2="222.25" y2="486.90" stroke="#333" stroke-width="0.9"/>
<text stroke="#222" stroke-width="0.15" transform="translate(224.95,489.30) rotate(-90)" x="0" y="0" font-size="7.7" fill="#222" text-anchor="end">CXCL6</text>
<line x1="239.21" y1="483.90" x2="239.21" y2="486.90" stroke="#333" stroke-width="0.9"/>
<text stroke="#222" stroke-width="0.15" transform="translate(241.91,489.30) rotate(-90)" x="0" y="0" font-size="7.7" fill="#222" text-anchor="end">FGF2</text>
<line x1="256.17" y1="483.90" x2="256.17" y2="486.90" stroke="#333" stroke-width="0.9"/>
<text stroke="#222" stroke-width="0.15" transform="translate(258.87,489.30) rotate(-90)" x="0" y="0" font-size="7.7" fill="#222" text-anchor="end">AREG</text>
<line x1="273.13" y1="483.90" x2="273.13" y2="486.90" stroke="#333" stroke-width="0.9"/>
<text stroke="#222" stroke-width="0.15" transform="translate(275.83,489.30) rotate(-90)" x="0" y="0" font-size="7.7" fill="#222" text-anchor="end">COL6A2</text>
<line x1="290.09" y1="483.90" x2="290.09" y2="486.90" stroke="#333" stroke-width="0.9"/>
<text stroke="#222" stroke-width="0.15" transform="translate(292.79,489.30) rotate(-90)" x="0" y="0" font-size="7.7" fill="#222" text-anchor="end">ELN</text>
<line x1="307.05" y1="483.90" x2="307.05" y2="486.90" stroke="#333" stroke-width="0.9"/>
<text stroke="#222" stroke-width="0.15" transform="translate(309.75,489.30) rotate(-90)" x="0" y="0" font-size="7.7" fill="#222" text-anchor="end">CXCL8</text>
<line x1="324.01" y1="483.90" x2="324.01" y2="486.90" stroke="#333" stroke-width="0.9"/>
<text stroke="#222" stroke-width="0.15" transform="translate(326.71,489.30) rotate(-90)" x="0" y="0" font-size="7.7" fill="#222" text-anchor="end">SPP1</text>
<line x1="340.97" y1="483.90" x2="340.97" y2="486.90" stroke="#333" stroke-width="0.9"/>
<text stroke="#222" stroke-width="0.15" transform="translate(343.67,489.30) rotate(-90)" x="0" y="0" font-size="7.7" fill="#222" text-anchor="end">TIMP1</text>
<line x1="357.93" y1="483.90" x2="357.93" y2="486.90" stroke="#333" stroke-width="0.9"/>
<text stroke="#222" stroke-width="0.15" transform="translate(360.63,489.30) rotate(-90)" x="0" y="0" font-size="7.7" fill="#222" text-anchor="end">THBS1</text>
<line x1="374.89" y1="483.90" x2="374.89" y2="486.90" stroke="#333" stroke-width="0.9"/>
<text stroke="#222" stroke-width="0.15" transform="translate(377.59,489.30) rotate(-90)" x="0" y="0" font-size="7.7" fill="#222" text-anchor="end">MCM7</text>
<line x1="391.85" y1="483.90" x2="391.85" y2="486.90" stroke="#333" stroke-width="0.9"/>
<text stroke="#222" stroke-width="0.15" transform="translate(394.55,489.30) rotate(-90)" x="0" y="0" font-size="7.7" fill="#222" text-anchor="end">FAS</text>
<line x1="408.81" y1="483.90" x2="408.81" y2="486.90" stroke="#333" stroke-width="0.9"/>
<text stroke="#222" stroke-width="0.15" transform="translate(411.51,489.30) rotate(-90)" x="0" y="0" font-size="7.7" fill="#222" text-anchor="end">MATN2</text>
<text x="256.17" y="531.8" font-size="9" fill="#222" stroke="#222" stroke-width="0.4" text-anchor="middle" textLength="20.4" lengthAdjust="spacingAndGlyphs">RNA ID</text>
<text stroke="#222" stroke-width="0.15" x="405.5" y="426.4" font-size="8.75" fill="#222">Mean z-score of</text>
<text stroke="#222" stroke-width="0.15" x="413.8" y="437.70" font-size="8.75" fill="#222">norm. reads</text>
<defs><linearGradient id="gB" x1="0" y1="0" x2="0" y2="1"><stop offset="0.0000" stop-color="#e72c20"/><stop offset="0.0417" stop-color="#eb4131"/><stop offset="0.0833" stop-color="#ef5641"/><stop offset="0.1250" stop-color="#f26b52"/><stop offset="0.1667" stop-color="#f57e65"/><stop offset="0.2083" stop-color="#f79177"/><stop offset="0.2500" stop-color="#f9a38a"/><stop offset="0.2917" stop-color="#fbb39e"/><stop offset="0.3333" stop-color="#fcc3b2"/><stop offset="0.3750" stop-color="#fdd3c5"/><stop offset="0.4167" stop-color="#fee2d9"/><stop offset="0.4583" stop-color="#fef1ed"/><stop offset="0.5000" stop-color="#fefdfe"/><stop offset="0.5417" stop-color="#efeaf5"/><stop offset="0.5833" stop-color="#e0d6ec"/><stop offset="0.6250" stop-color="#d1c3e2"/><stop offset="0.6667" stop-color="#c2b3da"/><stop offset="0.7083" stop-color="#b2a3d2"/><stop offset="0.7500" stop-color="#a393ca"/><stop offset="0.7917" stop-color="#9182c1"/><stop offset="0.8333" stop-color="#7e70b8"/><stop offset="0.8750" stop-color="#6c5fb0"/><stop offset="0.9167" stop-color="#5b58ad"/><stop offset="0.9583" stop-color="#4b51a9"/><stop offset="1.0000" stop-color="#3a4aa6"/></linearGradient></defs>
<rect x="430.7" y="440.3" width="12.2" height="61.40" fill="url(#gB)"/>
<line x1="430.7" y1="453.93" x2="433.09999999999997" y2="453.93" stroke="#fff" stroke-width="0.9" opacity="0.8"/>
<line x1="440.5" y1="453.93" x2="442.9" y2="453.93" stroke="#fff" stroke-width="0.9" opacity="0.8"/>
<text stroke="#222" stroke-width="0.15" x="446.0" y="456.53" font-size="7.7" fill="#222">0.5</text>
<line x1="430.7" y1="470.75" x2="433.09999999999997" y2="470.75" stroke="#fff" stroke-width="0.9" opacity="0.8"/>
<line x1="440.5" y1="470.75" x2="442.9" y2="470.75" stroke="#fff" stroke-width="0.9" opacity="0.8"/>
<text stroke="#222" stroke-width="0.15" x="446.0" y="473.35" font-size="7.7" fill="#222">0.0</text>
<line x1="430.7" y1="487.57" x2="433.09999999999997" y2="487.57" stroke="#fff" stroke-width="0.9" opacity="0.8"/>
<line x1="440.5" y1="487.57" x2="442.9" y2="487.57" stroke="#fff" stroke-width="0.9" opacity="0.8"/>
<text stroke="#222" stroke-width="0.15" x="446.0" y="490.17" font-size="7.7" fill="#222">−0.5</text>
<text x="7" y="547.5" font-size="10.5" font-weight="bold" fill="#000" stroke="#000" stroke-width="0.35">C</text>
<rect x="94.3" y="572.0" width="176.1" height="36.1" fill="none" stroke="#e4e4e4" stroke-width="1"/>
<rect x="95.00" y="572.70" width="17.77" height="17.65" fill="#cdbde0"/>
<rect x="95.00" y="590.05" width="17.77" height="17.35" fill="#fcbfa8"/>
<rect x="112.47" y="572.70" width="17.77" height="17.65" fill="#8472b8"/>
<rect x="112.47" y="590.05" width="17.77" height="17.35" fill="#f5846a"/>
<rect x="129.94" y="572.70" width="17.77" height="17.65" fill="#a896cb"/>
<rect x="129.94" y="590.05" width="17.77" height="17.35" fill="#f89c82"/>
<rect x="147.41" y="572.70" width="17.77" height="17.65" fill="#ae9dce"/>
<rect x="147.41" y="590.05" width="17.77" height="17.35" fill="#f9a086"/>
<rect x="164.88" y="572.70" width="17.77" height="17.65" fill="#8a78bb"/>
<rect x="164.88" y="590.05" width="17.77" height="17.35" fill="#f5866b"/>
<rect x="182.35" y="572.70" width="17.77" height="17.65" fill="#5a55a6"/>
<rect x="182.35" y="590.05" width="17.77" height="17.35" fill="#ec4a32"/>
<rect x="199.82" y="572.70" width="17.77" height="17.65" fill="#6a60ae"/>
<rect x="199.82" y="590.05" width="17.77" height="17.35" fill="#f2775b"/>
<rect x="217.29" y="572.70" width="17.77" height="17.65" fill="#675dac"/>
<rect x="217.29" y="590.05" width="17.77" height="17.35" fill="#f16a50"/>
<rect x="234.76" y="572.70" width="17.77" height="17.65" fill="#6b60ae"/>
<rect x="234.76" y="590.05" width="17.77" height="17.35" fill="#f27358"/>
<rect x="252.23" y="572.70" width="17.77" height="17.65" fill="#6b62af"/>
<rect x="252.23" y="590.05" width="17.77" height="17.35" fill="#ec5539"/>
<line x1="90.7" y1="581.38" x2="93.5" y2="581.38" stroke="#333" stroke-width="0.9"/>
<text stroke="#222" stroke-width="0.15" x="87.8" y="583.67" font-size="7.4" fill="#222" text-anchor="end" textLength="19.8" lengthAdjust="spacingAndGlyphs">PV.UT</text>
<line x1="90.7" y1="598.73" x2="93.5" y2="598.73" stroke="#333" stroke-width="0.9"/>
<text stroke="#222" stroke-width="0.15" x="87.8" y="601.02" font-size="7.4" fill="#222" text-anchor="end" textLength="24.3" lengthAdjust="spacingAndGlyphs">Control</text>
<text transform="translate(55.6,590.05) rotate(-90)" x="0" y="0" font-size="8.6" fill="#222" stroke="#222" stroke-width="0.4" text-anchor="middle" textLength="59.5" lengthAdjust="spacingAndGlyphs">Patient/control group</text>
<line x1="103.73" y1="609.40" x2="103.73" y2="612.40" stroke="#333" stroke-width="0.9"/>
<text stroke="#222" stroke-width="0.15" transform="translate(106.44,616.00) rotate(-90)" x="0" y="0" font-size="7.7" fill="#222" text-anchor="end">GPX7</text>
<line x1="121.20" y1="609.40" x2="121.20" y2="612.40" stroke="#333" stroke-width="0.9"/>
<text stroke="#222" stroke-width="0.15" transform="translate(123.91,616.00) rotate(-90)" x="0" y="0" font-size="7.7" fill="#222" text-anchor="end">SNTB1</text>
<line x1="138.68" y1="609.40" x2="138.68" y2="612.40" stroke="#333" stroke-width="0.9"/>
<text stroke="#222" stroke-width="0.15" transform="translate(141.38,616.00) rotate(-90)" x="0" y="0" font-size="7.7" fill="#222" text-anchor="end">TPM1</text>
<line x1="156.14" y1="609.40" x2="156.14" y2="612.40" stroke="#333" stroke-width="0.9"/>
<text stroke="#222" stroke-width="0.15" transform="translate(158.84,616.00) rotate(-90)" x="0" y="0" font-size="7.7" fill="#222" text-anchor="end">TPM4</text>
<line x1="173.62" y1="609.40" x2="173.62" y2="612.40" stroke="#333" stroke-width="0.9"/>
<text stroke="#222" stroke-width="0.15" transform="translate(176.31,616.00) rotate(-90)" x="0" y="0" font-size="7.7" fill="#222" text-anchor="end">FLNA</text>
<line x1="191.08" y1="609.40" x2="191.08" y2="612.40" stroke="#333" stroke-width="0.9"/>
<text stroke="#222" stroke-width="0.15" transform="translate(193.78,616.00) rotate(-90)" x="0" y="0" font-size="7.7" fill="#222" text-anchor="end">ITGB1</text>
<line x1="208.56" y1="609.40" x2="208.56" y2="612.40" stroke="#333" stroke-width="0.9"/>
<text stroke="#222" stroke-width="0.15" transform="translate(211.25,616.00) rotate(-90)" x="0" y="0" font-size="7.7" fill="#222" text-anchor="end">BASP1</text>
<line x1="226.02" y1="609.40" x2="226.02" y2="612.40" stroke="#333" stroke-width="0.9"/>
<text stroke="#222" stroke-width="0.15" transform="translate(228.72,616.00) rotate(-90)" x="0" y="0" font-size="7.7" fill="#222" text-anchor="end">ANPEP</text>
<line x1="243.50" y1="609.40" x2="243.50" y2="612.40" stroke="#333" stroke-width="0.9"/>
<text stroke="#222" stroke-width="0.15" transform="translate(246.19,616.00) rotate(-90)" x="0" y="0" font-size="7.7" fill="#222" text-anchor="end">ITGB3</text>
<line x1="260.96" y1="609.40" x2="260.96" y2="612.40" stroke="#333" stroke-width="0.9"/>
<text stroke="#222" stroke-width="0.15" transform="translate(263.66,616.00) rotate(-90)" x="0" y="0" font-size="7.7" fill="#222" text-anchor="end">THBS1</text>
<text x="182.35" y="653" font-size="9" fill="#222" stroke="#222" stroke-width="0.4" text-anchor="middle" textLength="28" lengthAdjust="spacingAndGlyphs">Protein ID</text>
<text stroke="#222" stroke-width="0.15" x="260.0" y="547.8" font-size="8.75" fill="#222">Mean z-score of</text>
<text stroke="#222" stroke-width="0.15" x="260.0" y="559.10" font-size="8.75" fill="#222">norm. intensities</text>
<defs><linearGradient id="gC" x1="0" y1="0" x2="0" y2="1"><stop offset="0.0000" stop-color="#ea3f2f"/><stop offset="0.0417" stop-color="#ee543f"/><stop offset="0.0833" stop-color="#f2684f"/><stop offset="0.1250" stop-color="#f47a61"/><stop offset="0.1667" stop-color="#f68c73"/><stop offset="0.2083" stop-color="#f99e85"/><stop offset="0.2500" stop-color="#faae97"/><stop offset="0.2917" stop-color="#fbbdab"/><stop offset="0.3333" stop-color="#fdcdbe"/><stop offset="0.3750" stop-color="#fddbd1"/><stop offset="0.4167" stop-color="#feeae4"/><stop offset="0.4583" stop-color="#fff9f7"/><stop offset="0.5000" stop-color="#f7f4fa"/><stop offset="0.5417" stop-color="#e8e1f1"/><stop offset="0.5833" stop-color="#dacfe8"/><stop offset="0.6250" stop-color="#ccbde0"/><stop offset="0.6667" stop-color="#bdaed8"/><stop offset="0.7083" stop-color="#ae9fd0"/><stop offset="0.7500" stop-color="#9f8fc8"/><stop offset="0.7917" stop-color="#8d7ebf"/><stop offset="0.8333" stop-color="#7b6db7"/><stop offset="0.8750" stop-color="#6a5eb0"/><stop offset="0.9167" stop-color="#5a57ac"/><stop offset="0.9583" stop-color="#4a51a9"/><stop offset="1.0000" stop-color="#3a4aa6"/></linearGradient></defs>
<rect x="285.1" y="562.4" width="13.0" height="64.50" fill="url(#gC)"/>
<line x1="285.1" y1="576.21" x2="287.5" y2="576.21" stroke="#fff" stroke-width="0.9" opacity="0.8"/>
<line x1="295.70000000000005" y1="576.21" x2="298.1" y2="576.21" stroke="#fff" stroke-width="0.9" opacity="0.8"/>
<text stroke="#222" stroke-width="0.15" x="301.20000000000005" y="578.81" font-size="7.7" fill="#222">0.4</text>
<line x1="285.1" y1="593.11" x2="287.5" y2="593.11" stroke="#fff" stroke-width="0.9" opacity="0.8"/>
<line x1="295.70000000000005" y1="593.11" x2="298.1" y2="593.11" stroke="#fff" stroke-width="0.9" opacity="0.8"/>
<text stroke="#222" stroke-width="0.15" x="301.20000000000005" y="595.71" font-size="7.7" fill="#222">0.0</text>
<line x1="285.1" y1="610.00" x2="287.5" y2="610.00" stroke="#fff" stroke-width="0.9" opacity="0.8"/>
<line x1="295.70000000000005" y1="610.00" x2="298.1" y2="610.00" stroke="#fff" stroke-width="0.9" opacity="0.8"/>
<text stroke="#222" stroke-width="0.15" x="301.20000000000005" y="612.60" font-size="7.7" fill="#222">−0.4</text>
</svg><div id="bd"></div></div></body></html>
